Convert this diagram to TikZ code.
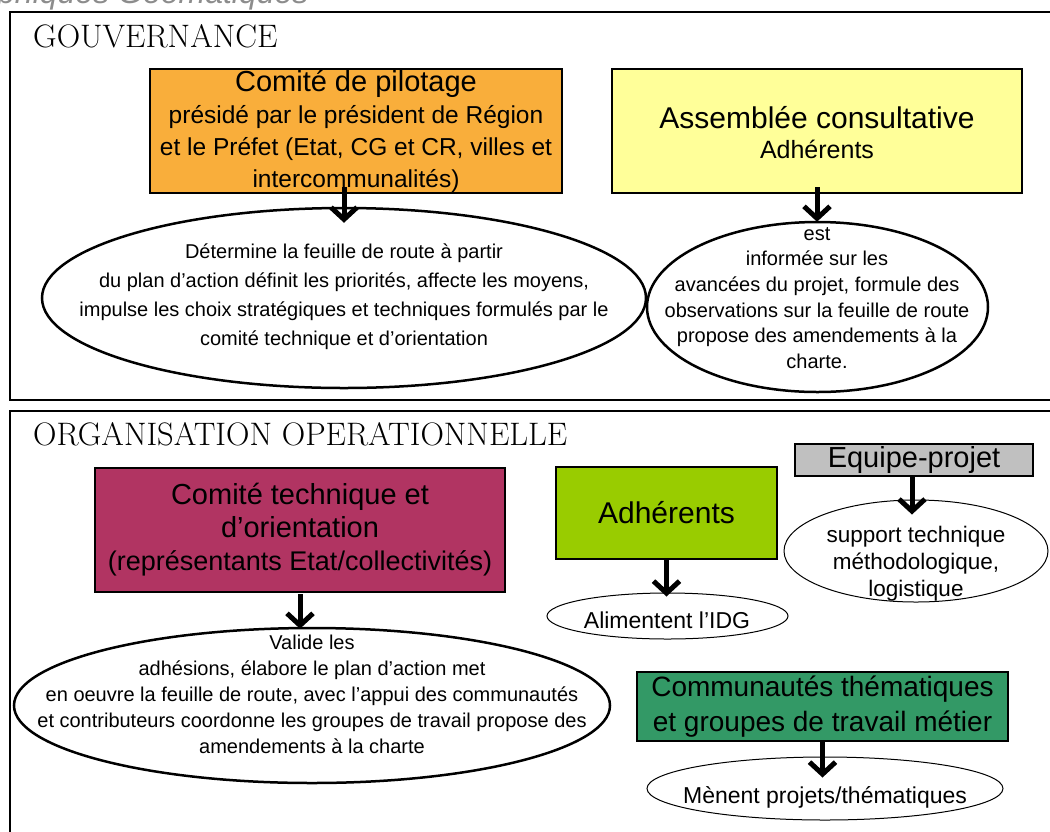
\documentclass[tikz,border=0pt]{standalone}
\usepackage{fontspec}
\newfontfamily\bodyfont{Liberation Sans}
\usetikzlibrary{shapes.geometric,arrows.meta}
\definecolor{orangeC}{HTML}{F9AE3B}
\definecolor{yellowC}{HTML}{FFFF99}
\definecolor{magentaC}{HTML}{B13462}
\definecolor{limeC}{HTML}{99CC00}
\definecolor{grayC}{HTML}{C0C0C0}
\definecolor{greenC}{HTML}{339966}
\newcommand{\fs}[2]{\fontsize{#1}{#2}\selectfont}
\begin{document}
\begin{tikzpicture}[x=1pt,y=-1pt,
  box/.style={draw=black, line width=2.5pt, inner sep=0pt, align=center, font=\bodyfont},
  oval/.style={ellipse, draw=black, fill=white, inner sep=0pt},
  thickoval/.style={oval, line width=2.5pt},
  thinoval/.style={oval, line width=1pt},
  txt/.style={align=center, inner sep=0pt, font=\bodyfont},
  arr/.style={line width=5pt, -{Straight Barb[length=12pt,width=26pt]}},
  frameline/.style={line width=2.5pt},
  heading/.style={anchor=base west, inner sep=0pt, font=\fs{32.5}{33}}
]
\useasboundingbox (0,0) rectangle (1050,831);

% cut-off text at the top
\begin{scope}
\clip (0,0) rectangle (1050,831);
\node[anchor=base west, inner sep=0pt, text=black!45, font=\bodyfont\itshape\fs{32}{32}] (cut) at (-3,3.5) {phiques Géomatiques};
\end{scope}

% frames
\draw[frameline] (1060,12) -- (10,12) -- (10,400) -- (1060,400);
\draw[frameline] (1060,411) -- (10,411) -- (10,840);

% headings
\node[heading] (gov) at (33,47) {GOUVERNANCE};
\node[heading] (org) at (33,445) {ORGANISATION OPERATIONNELLE};

% Gouvernance
\node[box, fill=orangeC, minimum width=412pt, minimum height=124pt, font=\bodyfont\fs{24.5}{32}] (pil) at (356,131)
  {{\fs{29}{32}Comité de pilotage}\\présidé par le président de Région\\et le Préfet (Etat, CG et CR, villes et\\intercommunalités)};
\node[box, fill=yellowC, minimum width=410pt, minimum height=124pt, font=\bodyfont\fs{25}{32}] (ass) at (817,131)
  {\raisebox{-6pt}[\height][\depth]{\begin{tabular}{@{}c@{}}{\fs{30}{32}Assemblée consultative}\\[-2pt]Adhérents\end{tabular}}};

\node[thickoval, minimum width=604pt, minimum height=180pt] (e1) at (344,298) {};
\node[txt, font=\bodyfont\fs{20}{29}] (t1) at (344,297)
  {Détermine la feuille de route à partir\\du plan d’action définit les priorités, affecte les moyens,\\impulse les choix stratégiques et techniques formulés par le\\comité technique et d’orientation};

\node[thickoval, minimum width=341pt, minimum height=170pt] (e2) at (817.5,307) {};
\node[txt, font=\bodyfont\fs{20}{25.6}] (t2) at (817,298)
  {est\\informée sur les\\avancées du projet, formule des\\observations sur la feuille de route\\propose des amendements à la\\charte.};

% Organisation operationnelle
\node[box, fill=magentaC, minimum width=410pt, minimum height=124pt, font=\bodyfont\fs{27}{33}] (tech) at (300,530)
  {{\fs{29}{33}Comité technique et}\\{\fs{29}{33}d’orientation}\\(représentants Etat/collectivités)};
\node[box, fill=limeC, minimum width=221pt, minimum height=92pt, font=\bodyfont\fs{30}{32}] (adh) at (666.5,513) {Adhérents};
\node[box, fill=grayC, minimum width=238pt, minimum height=32pt, font=\bodyfont\fs{29}{30}] (eq) at (914,460) {Equipe-projet};
\node[box, fill=greenC, minimum width=371pt, minimum height=69pt, font=\bodyfont\fs{28}{35}] (com) at (822.5,706.5)
  {Communautés thématiques\\et groupes de travail métier};

\node[thickoval, minimum width=596pt, minimum height=155pt] (e3) at (312,705.5) {};
\node[txt, font=\bodyfont\fs{20}{26}] (t3) at (312,694)
  {Valide les\\adhésions, élabore le plan d’action met\\en oeuvre la feuille de route, avec l’appui des communautés\\et contributeurs coordonne les groupes de travail propose des\\amendements à la charte};

\node[thinoval, minimum width=264pt, minimum height=102pt] (e4) at (916,551) {};
\node[txt, font=\bodyfont\fs{22.5}{27}] (t4) at (916,564)
  {support technique\\méthodologique,\\logistique};

\node[thinoval, minimum width=241pt, minimum height=46pt] (e5) at (667.5,616) {};
\node[txt, font=\bodyfont\fs{23}{26}] (t5) at (667,620) {Alimentent l’IDG};

\node[thinoval, minimum width=356pt, minimum height=63pt] (e6) at (825,788.5) {};
\node[txt, font=\bodyfont\fs{23}{26}] (t6) at (825,797) {Mènent projets/thématiques};

% arrows
\draw[arr] ([yshift=7pt]pil.south -| e1.north) -- ([yshift=-16pt]e1.north);
\draw[arr] ([yshift=7pt]ass.south) -- ([yshift=-1pt]ass.south |- e2.north);
\draw[arr] ([yshift=-1pt]tech.south) -- ([yshift=-2pt]tech.south |- e3.north);
\draw[arr] (adh.south) -- ([yshift=-4pt]adh.south |- e5.north);
\draw[arr] ([xshift=-2pt]eq.south) -- ([xshift=-2pt,yshift=-15pt]eq.south |- e4.north);
\draw[arr] (com.south) -- ([yshift=-21pt]com.south |- e6.north);
\end{tikzpicture}
\end{document}
